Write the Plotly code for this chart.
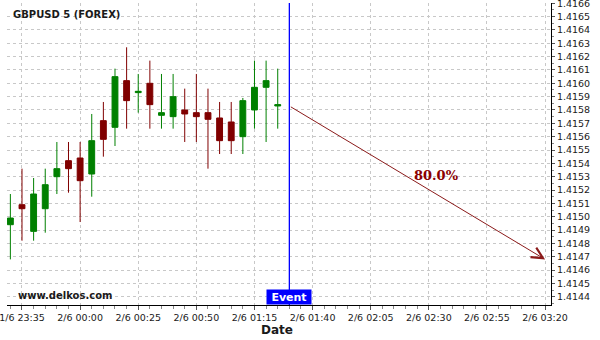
import plotly.graph_objects as go

# ---- data ----
times = ["2021-06-01 23:30", "2021-06-01 23:35", "2021-06-01 23:40", "2021-06-01 23:45",
         "2021-06-01 23:50", "2021-06-01 23:55", "2021-06-02 00:00", "2021-06-02 00:05",
         "2021-06-02 00:10", "2021-06-02 00:15", "2021-06-02 00:20", "2021-06-02 00:25",
         "2021-06-02 00:30", "2021-06-02 00:35", "2021-06-02 00:40", "2021-06-02 00:45",
         "2021-06-02 00:50", "2021-06-02 00:55", "2021-06-02 01:00", "2021-06-02 01:05",
         "2021-06-02 01:10", "2021-06-02 01:15", "2021-06-02 01:20", "2021-06-02 01:25"]
opens = [1.41494, 1.41509, 1.41489, 1.41506, 1.41530, 1.41542, 1.41544, 1.41532,
         1.41572, 1.41567, 1.41602, 1.41593, 1.41600, 1.41576, 1.41575, 1.41580,
         1.41578, 1.41578, 1.41574, 1.41571, 1.41560, 1.41580, 1.41597, 1.41583]
highs = [1.41517, 1.41536, 1.41529, 1.41536, 1.41556, 1.41556, 1.41556, 1.41577,
         1.41586, 1.41611, 1.41627, 1.41607, 1.41617, 1.41607, 1.41607, 1.41596,
         1.41607, 1.41596, 1.41586, 1.41586, 1.41589, 1.41617, 1.41617, 1.41611]
lows = [1.41468, 1.41482, 1.41482, 1.41488, 1.41517, 1.41518, 1.41496, 1.41515,
        1.41545, 1.41553, 1.41566, 1.41578, 1.41566, 1.41566, 1.41566, 1.41556,
        1.41556, 1.41536, 1.41547, 1.41547, 1.41547, 1.41566, 1.41556, 1.41566]
closes = [1.41499, 1.41506, 1.41517, 1.41524, 1.41536, 1.41536, 1.41527, 1.41557,
          1.41558, 1.41605, 1.41587, 1.41594, 1.41584, 1.41578, 1.41590, 1.41577,
          1.41575, 1.41573, 1.41557, 1.41557, 1.41587, 1.41597, 1.41602, 1.41584]

event_time = "2021-06-02 01:30"
event_price = 1.41583
target_time = "2021-06-02 03:20"
target_price = 1.41468
probability_label = "80.0%"
title_text = "GBPUSD 5 (FOREX)"
watermark = "www.delkos.com"

x_range = ["2021-06-01 23:28:33", "2021-06-02 03:22:33"]
y_range = [1.414338, 1.416602]

GREEN = "#008000"
RED = "#800000"
FONT = "DejaVu Sans"

fig = go.Figure()
fig.add_trace(go.Candlestick(
    x=times, open=opens, high=highs, low=lows, close=closes,
    increasing=dict(line=dict(color=GREEN, width=1), fillcolor=GREEN),
    decreasing=dict(line=dict(color=RED, width=1), fillcolor=RED),
    whiskerwidth=0, showlegend=False, hoverinfo="skip",
))

# event vertical line
fig.add_shape(type="line", xref="x", yref="paper", x0=event_time, x1=event_time,
              y0=0, y1=1, line=dict(color="#0000ff", width=1.3))

# forecast arrow
fig.add_annotation(x=target_time, y=target_price, ax=event_time, ay=event_price,
                   xref="x", yref="y", axref="x", ayref="y", text="",
                   showarrow=True, arrowhead=5, arrowsize=2.2, arrowwidth=1,
                   arrowcolor="#8b1a1a", standoff=0, startstandoff=0)

fig.add_annotation(xref="paper", yref="paper", x=0.790, y=0.428, text=probability_label,
                   showarrow=False, xanchor="center", yanchor="middle",
                   font=dict(family="DejaVu Serif", size=13, color="#8b0000", weight="bold"))

# Event label box
fig.add_annotation(x=event_time, xref="x", yref="paper", y=0, yanchor="bottom",
                   xanchor="center", text="<b>Event</b>", showarrow=False,
                   bgcolor="#0000ff", width=42, height=12, borderpad=1,
                   font=dict(family=FONT, size=11, color="white"))

fig.add_annotation(xref="paper", yref="paper", x=0.0074, y=0.962, xanchor="left",
                   yanchor="middle", text="<b>" + title_text + "</b>", showarrow=False,
                   font=dict(family=FONT, size=10, color="#1a1a1a"))
fig.add_annotation(xref="paper", yref="paper", x=0.0165, y=0.033, xanchor="left",
                   yanchor="middle", text="<b>" + watermark + "</b>", showarrow=False,
                   font=dict(family=FONT, size=10, color="#1a1a1a"))
fig.add_annotation(xref="paper", yref="paper", x=0.497, y=-0.083, xanchor="center",
                   yanchor="middle", text="<b>Date</b>", showarrow=False,
                   font=dict(family=FONT, size=12, color="#1a1a1a"))

fig.update_layout(
    width=600, height=340,
    margin=dict(l=7, r=49, t=3, b=35),
    paper_bgcolor="white", plot_bgcolor="white",
    font=dict(family=FONT, size=9.5, color="#1a1a1a"),
    boxgap=0.28,
    showlegend=False,
    xaxis=dict(
        type="date", range=x_range, rangeslider=dict(visible=False),
        tick0="2021-06-01 23:35", dtick=25 * 60 * 1000,
        tickformat="%-d/%-m %H:%M", ticklabeloverflow="allow",
        showgrid=True, gridcolor="#c8c8c8", griddash="3px,3px", gridwidth=1,
        showline=True, linecolor="black", linewidth=1,
        ticks="outside", ticklen=4, tickcolor="#555555",
        minor=dict(dtick=5 * 60 * 1000, ticks="outside", ticklen=3, tickcolor="#888888", showgrid=False),
        zeroline=False, automargin=False, fixedrange=True,
    ),
    yaxis=dict(
        side="right", range=y_range, dtick=0.0001, tick0=1.4144, tickformat=".4f",
        ticklabeloverflow="allow",
        showgrid=True, gridcolor="#c8c8c8", griddash="3px,3px", gridwidth=1,
        showline=True, linecolor="black", linewidth=1,
        ticks="outside", ticklen=3, tickcolor="#555555",
        minor=dict(dtick=0.00005, ticks="outside", ticklen=2, tickcolor="#888888", showgrid=False),
        zeroline=False, automargin=False, fixedrange=True,
    ),
)

fig.write_html("out.html")
